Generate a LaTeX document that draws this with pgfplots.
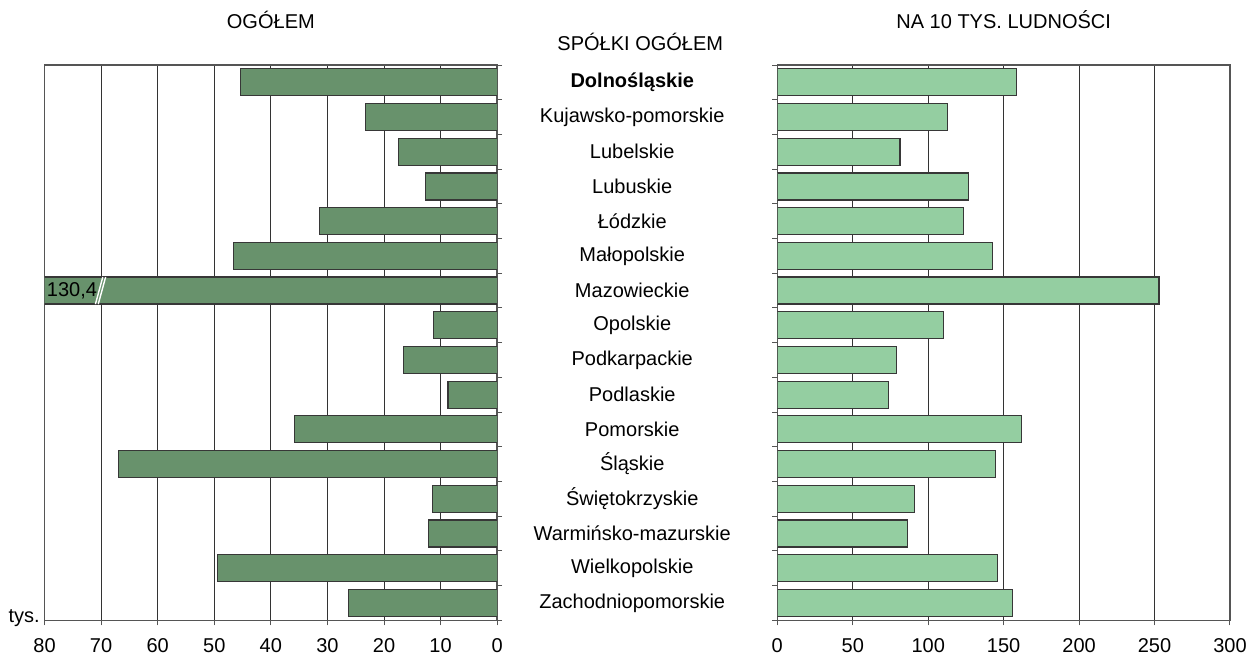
\documentclass[border=0pt]{standalone}
\usepackage{fontspec}
\setmainfont{Liberation Sans}
\usepackage{pgfplots}
\usepackage{pgfplotstable}
\pgfplotsset{compat=1.18}

\definecolor{darkbar}{RGB}{104,146,108}
\definecolor{lightbar}{RGB}{148,206,161}
\definecolor{framegray}{RGB}{85,85,85}
\definecolor{outline}{RGB}{55,55,55}

% idx: 0 = Dolnoslaskie ... 15 = Zachodniopomorskie
\pgfplotstableread{
idx total per10k
0  45.4  158.3
1  23.3  113.0
2  17.5  81.3
3  12.7  126.7
4  31.4  123.6
5  46.6  142.6
6  130.4 252.9
7  11.3  110.0
8  16.5  79.1
9  8.7   73.8
10 35.8  161.8
11 66.9  144.6
12 11.5  91.0
13 12.2  86.4
14 49.4  145.9
15 26.3  155.6
}\data

\pgfplotsset{
  common/.style={
    scale only axis, width=226.25pt, height=277.5pt,
    anchor=south west,
    xbar, bar width=13.5pt,
    ymin=-0.5, ymax=15.5, y dir=reverse,
    xmajorgrids, major grid style={draw=black!80, line width=0.5pt},
    axis line style={draw=framegray, line width=0.7pt},
    tick align=outside, major tick length=2.5pt, minor tick length=2.5pt,
    tick style={draw=framegray, line width=0.5pt},
    clip mode=individual,
    /pgf/number format/assume math mode=true,
    ticklabel style={font=\normalsize},
    xticklabel style={yshift=-3pt},
  },
}

\begin{document}
\begin{tikzpicture}
% left: total, in thousands
\begin{axis}[common, at={(0,0)}, name=L,
    x dir=reverse, xmin=0, xmax=80, xtick={0,10,...,80},
    ytick={-0.5,0.5,...,15.5}, yticklabels={},
    ytick pos=right, xtick pos=bottom,
]
\addplot[fill=darkbar, draw=outline, line width=0.6pt] table[x=total, y=idx] {\data};
\draw[white, line width=0.7pt] (axis cs:71.0,6.39) -- (axis cs:69.7,5.61);
\draw[white, line width=0.7pt] (axis cs:70.5,6.39) -- (axis cs:69.2,5.61);
\node[anchor=west, inner sep=1pt] at (axis cs:80,6) {130,4};
\node[anchor=east, inner sep=0pt, xshift=-2.2pt, yshift=1pt] at (axis cs:80,15.5) {tys.};
\node at (axis cs:40,-0.5) [yshift=22.5pt] {OGÓŁEM};
\end{axis}
% right: per 10 thousand inhabitants
\begin{axis}[common, at={(366.25pt,0)}, name=R,
    xmin=0, xmax=300, xtick={0,50,...,300},
    ytick={0,...,15},
    yticklabels={\textbf{Dolnośląskie},Kujawsko-pomorskie,Lubelskie,Lubuskie,Łódzkie,Małopolskie,Mazowieckie,Opolskie,Podkarpackie,Podlaskie,Pomorskie,Śląskie,Świętokrzyskie,Warmińsko-mazurskie,Wielkopolskie,Zachodniopomorskie},
    major y tick style={draw=none},
    minor ytick={-0.5,0.5,...,15.5},
    yticklabel style={anchor=center, xshift=-70pt},
    ytick pos=left, xtick pos=bottom,
]
\addplot[fill=lightbar, draw=outline, line width=0.6pt] table[x=per10k, y=idx] {\data};
\node at (axis cs:150,-0.5) [yshift=22.5pt] {NA 10 TYS. LUDNOŚCI};
\node at (axis cs:0,-0.5) [xshift=-68.5pt, yshift=11.5pt] {SPÓŁKI OGÓŁEM};
\end{axis}
\pgfresetboundingbox
\path ([shift={(-22.25pt,-19pt)}]L.south west) rectangle ([shift={(10pt,32.5pt)}]R.north east);
\end{tikzpicture}
\end{document}
